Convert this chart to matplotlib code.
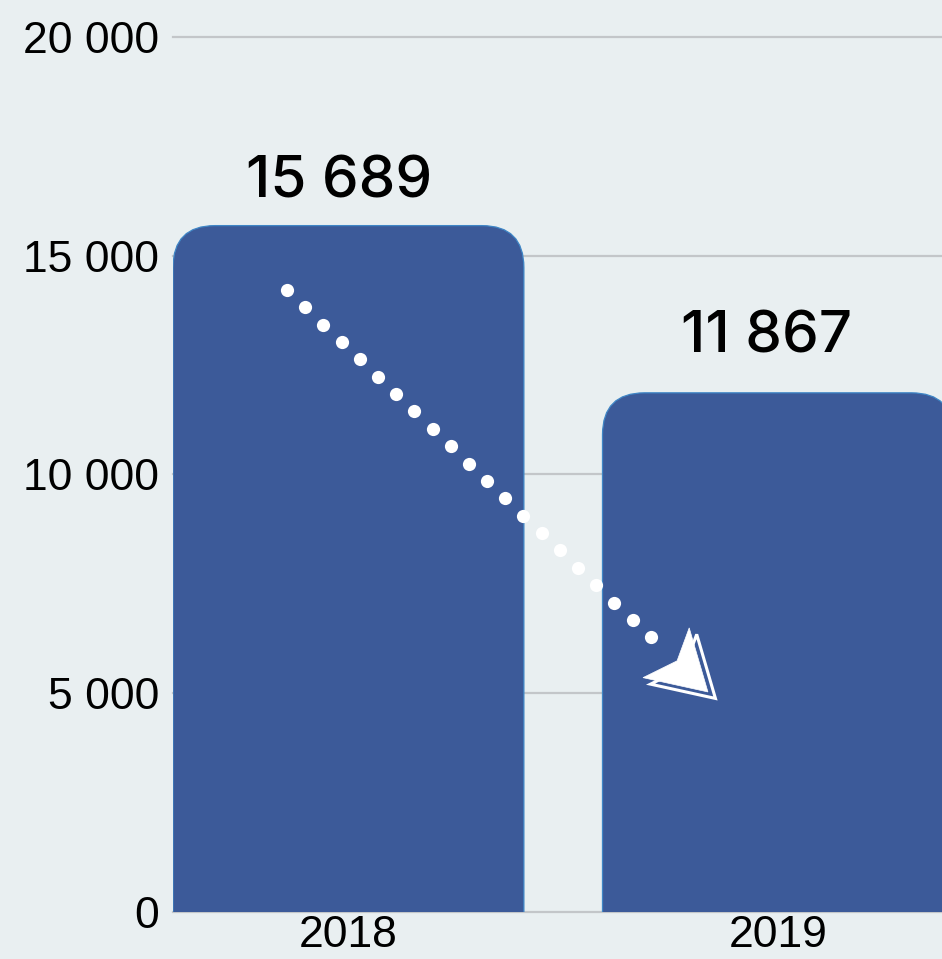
import numpy as np
import matplotlib
matplotlib.use("Agg")
import matplotlib.pyplot as plt
from matplotlib.patches import FancyBboxPatch, Polygon
from matplotlib.transforms import IdentityTransform

# ---- data ----
categories = ["2018", "2019"]
values = [15689, 11867]
value_labels = ["15 689", "11 867"]
y_ticks = [0, 5000, 10000, 15000, 20000]
y_tick_labels = ["0", "5 000", "10 000", "15 000", "20 000"]

# ---- style ----
BG = "#e9eff1"
BAR = "#3c5a99"
BAR_EDGE = "#3f86c6"
GRID = "#c3c6c9"
label_offsets_pt = [(-7, 20), (-8, 29)]
arrow_start = (-0.143, 14220)   # in category / value units
arrow_tip = (0.837, 5030)

W, H, DPI = 942, 959, 100
fig = plt.figure(figsize=(W / DPI, H / DPI), dpi=DPI, facecolor=BG)
ax = fig.add_axes([173 / W, 47 / H, (W - 173) / W, 875 / H], facecolor=BG)

x = np.arange(len(categories))
bar_w = 0.817
ax.set_xlim(-0.4085, 1.382)
ax.set_ylim(0, 20000)

for s in ax.spines.values():
    s.set_visible(False)

# gridlines
for t in y_ticks:
    ax.axhline(t, color=GRID, lw=1.6, zorder=0, clip_on=False)

# bars (drawn through the library to get geometry), then rounded-top versions
bars = ax.bar(x, values, width=bar_w, color=BAR, zorder=2)
px_per_x = (W - 173) / (1.382 + 0.4085)
px_per_y = 875 / 20000
r_px = 42
rx = r_px / px_per_x
ry = r_px / px_per_y
for b in bars:
    b.set_visible(False)
    bx, bw, bh = b.get_x(), b.get_width(), b.get_height()
    p = FancyBboxPatch((bx, -ry), bw, bh + ry,
                       boxstyle=f"round,pad=0,rounding_size={rx}",
                       mutation_aspect=ry / rx,
                       facecolor=BAR, edgecolor=BAR_EDGE, lw=0.9, zorder=2)
    ax.add_patch(p)

# value labels
for xi, v, lab, (dx, dy) in zip(x, values, value_labels, label_offsets_pt):
    ax.annotate(lab, (xi, v), xytext=(dx, dy), textcoords="offset points",
                ha="center", va="baseline", fontsize=42,
                family=["Inter", "DejaVu Sans"], fontweight="medium",
                color="black", zorder=5)

# ticks
ax.set_yticks(y_ticks)
ax.set_yticklabels(y_tick_labels)
ax.set_xticks(x)
ax.set_xticklabels(categories)
ax.tick_params(axis="y", length=0, pad=10, labelsize=32)
ax.tick_params(axis="x", length=0, pad=2, labelsize=32)
for lab in ax.get_xticklabels() + ax.get_yticklabels():
    lab.set_family("Liberation Sans")

# dotted arrow (decoration) computed in display pixels
fig.canvas.draw()
P0 = ax.transData.transform(arrow_start)
P1 = ax.transData.transform(arrow_tip)
d = P1 - P0
L = np.hypot(*d)
u = d / L
n = np.array([u[1], -u[0]])
dots_end = L - 79
k = int(round(dots_end / 25.1))
ts = np.linspace(0, dots_end, k + 1)
pts = P0[None, :] + ts[:, None] * u[None, :]
ax.plot(pts[:, 0], pts[:, 1], "o", ms=9.5, color="white", mec="none",
        transform=IdentityTransform(), zorder=6, clip_on=False)

def head(T):
    return np.array([T,
                     T - 57.8 * u - 33.4 * n,
                     T - 43.8 * u - 1.2 * n,
                     T - 56.8 * u + 34.5 * n])

shadow = head(P1 + np.array([7.5, -6.5]))
ax.add_patch(Polygon(shadow, closed=True, facecolor=BAR, edgecolor="white",
                     lw=2.2, transform=IdentityTransform(), zorder=6,
                     joinstyle="miter"))
ax.add_patch(Polygon(head(P1), closed=True, facecolor="white", edgecolor="white",
                     lw=0.5, transform=IdentityTransform(), zorder=7))

fig.savefig("out.png", dpi=DPI, facecolor=BG)
